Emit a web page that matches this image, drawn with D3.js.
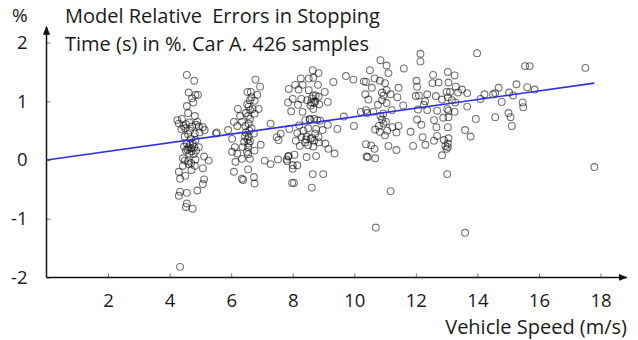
<!DOCTYPE html>
<html>
<head>
<meta charset="utf-8">
<script src="https://cdn.jsdelivr.net/npm/d3@7"></script>
<style>
  body { margin: 0; background: #fff; }
  text { font-family: "Open Sans", sans-serif; fill: #1a1a1a; }
</style>
</head>
<body>
<svg id="chart" width="638" height="340"></svg>
<script>
// tick labels
var xTicks = [2, 4, 6, 8, 10, 12, 14, 16, 18]
var yTicks = [-2, -1, 0, 1, 2]

// fitted trend line (speed m/s, error %)
var fitSpeed = [0, 17.8]
var fitErr = [0, 1.31]

// samples, [speed, error %], grouped by speed band
var band45 = [
  [4.56,1.45],[4.80,1.35],[4.62,1.15],[4.92,1.11],[4.84,1.11],[4.77,0.98],[4.56,0.92],[4.73,1.05],
  [4.60,0.80],[4.82,0.75],[4.25,0.68],[4.30,0.62],[4.53,0.61],[4.64,0.64],[4.90,0.65],[4.38,0.53],
  [4.51,0.54],[4.73,0.57],[4.95,0.57],[5.08,0.56],[5.14,0.51],[5.51,0.45],[4.60,0.44],[4.82,0.45],
  [4.97,0.47],[4.49,0.40],[4.69,0.36],[4.84,0.34],[4.56,0.28],[4.75,0.28],[4.47,0.23],[4.62,0.22],
  [4.80,0.22],[4.95,0.22],[4.53,0.16],[4.71,0.15],[4.86,0.16],[4.64,0.11],[4.43,0.03],[4.49,-0.01],
  [4.84,0.01],[5.12,0.06],[5.27,-0.01],[4.62,-0.07],[4.82,-0.10],[4.43,-0.10],[5.08,-0.14],[4.30,-0.20],
  [4.71,-0.17],[4.51,-0.27],[4.34,-0.32],[5.12,-0.33],[5.08,-0.41],[4.90,-0.52],[4.34,-0.54],[4.56,-0.56],
  [4.30,-0.61],[4.56,-0.74],[4.53,-0.80],[4.75,-0.83],[4.34,-1.82],
  [4.66,0.27],[4.70,0.20],[4.58,0.18],[4.78,0.10],[4.45,0.58],[4.66,0.50],[4.86,0.60],[4.40,0.70],
  [4.60,-0.02],[4.70,-0.05]
]
var band65 = [
  [6.79,1.37],[6.94,1.25],[6.53,1.16],[6.64,1.16],[6.85,1.11],[6.61,1.02],[6.76,1.01],[6.22,0.87],
  [6.57,0.91],[6.70,0.87],[6.89,0.87],[6.48,0.80],[6.76,0.79],[6.29,0.75],[6.09,0.65],[6.35,0.65],
  [6.61,0.70],[6.20,0.58],[6.46,0.58],[5.90,0.51],[6.66,0.54],[7.28,0.62],[6.48,0.47],[6.74,0.45],
  [5.53,0.47],[6.03,0.36],[6.57,0.40],[6.42,0.31],[6.61,0.32],[7.48,0.39],[7.61,0.45],[7.54,0.34],
  [6.12,0.22],[6.37,0.22],[6.55,0.22],[6.96,0.26],[6.03,0.14],[6.20,0.11],[6.51,0.14],[6.76,0.16],
  [6.35,0.02],[6.61,0.02],[7.09,-0.01],[7.28,-0.07],[7.52,0.01],[7.80,0.01],[7.85,0.06],[8.00,-0.09],
  [6.14,-0.03],[6.09,-0.20],[6.55,-0.16],[6.35,-0.32],[6.39,-0.34],[6.74,-0.29],[6.76,-0.40],[7.98,-0.39],
  [6.55,0.75],[6.57,0.62],[6.59,0.50],[6.53,0.35],[6.57,0.28],[6.55,0.10],[6.62,0.85],[6.52,0.95],
  [6.66,1.07],[6.45,0.40]
]
var band85 = [
  [8.65,1.53],[8.84,1.48],[8.26,1.39],[8.52,1.39],[8.67,1.40],[9.73,1.43],[9.97,1.37],[10.31,1.34],
  [8.08,1.28],[8.32,1.28],[8.82,1.28],[9.32,1.33],[7.87,1.21],[8.19,1.20],[8.52,1.19],[9.04,1.16],
  [8.67,1.10],[8.84,1.08],[8.00,1.04],[8.28,1.04],[8.47,1.02],[8.73,1.00],[9.14,0.99],[7.85,0.98],
  [8.17,0.94],[8.58,0.93],[8.86,0.95],[7.95,0.83],[8.32,0.82],[8.67,0.87],[8.41,0.68],[8.56,0.69],
  [8.80,0.68],[8.89,0.67],[9.14,0.60],[9.66,0.74],[9.99,0.58],[10.21,0.82],[10.42,0.80],[8.21,0.59],
  [7.89,0.53],[9.45,0.53],[8.50,0.54],[8.76,0.53],[8.97,0.51],[8.15,0.46],[8.73,0.45],[8.28,0.39],
  [8.43,0.35],[8.58,0.36],[8.84,0.39],[8.10,0.33],[9.06,0.28],[8.23,0.24],[8.50,0.25],[8.67,0.23],
  [9.16,0.19],[9.36,0.11],[7.87,0.07],[8.06,0.09],[8.45,0.05],[8.76,0.07],[7.82,-0.02],[8.15,-0.09],
  [8.00,-0.15],[8.65,-0.24],[8.99,-0.24],[8.04,-0.39],[8.62,-0.47],[10.38,0.27],[10.40,0.06],[10.36,1.12],
  [8.62,1.05],[8.70,0.97],[8.60,0.98],[8.75,1.10],[8.55,0.70],[8.70,0.70],[8.45,0.40],[8.62,0.38],
  [8.70,0.33],[8.40,0.30],[8.85,0.30],[8.35,0.50]
]
var band11 = [
  [12.15,1.81],[12.15,1.68],[10.85,1.70],[11.05,1.61],[11.61,1.56],[10.51,1.53],[11.11,1.48],[10.66,1.39],
  [10.83,1.35],[11.00,1.31],[12.56,1.45],[13.04,1.50],[12.02,1.35],[12.54,1.31],[12.74,1.32],[10.38,1.33],
  [10.57,1.23],[11.05,1.19],[11.44,1.23],[12.04,1.25],[11.18,1.12],[12.37,1.12],[12.65,1.09],[13.00,1.16],
  [10.46,1.03],[10.90,1.02],[11.40,1.07],[12.00,1.09],[12.85,1.03],[10.77,0.94],[11.05,0.97],[11.59,0.93],
  [12.07,0.86],[12.37,0.85],[12.69,0.84],[13.02,0.87],[10.38,0.85],[10.62,0.82],[10.94,0.79],[11.22,0.85],
  [12.26,0.94],[10.90,0.69],[11.03,0.65],[12.04,0.69],[12.59,0.68],[12.89,0.72],[12.18,0.60],[11.24,0.56],
  [11.44,0.58],[10.68,0.52],[10.83,0.48],[11.07,0.50],[11.37,0.47],[12.67,0.56],[13.04,0.56],[11.83,0.48],
  [12.22,0.39],[12.69,0.41],[12.91,0.34],[10.55,0.25],[10.66,0.19],[11.11,0.24],[11.37,0.17],[11.91,0.24],
  [12.31,0.26],[12.59,0.33],[12.96,0.24],[13.00,0.19],[10.44,0.05],[10.68,0.03],[12.85,0.08],[13.02,-0.24],
  [11.18,-0.53],[10.70,-1.15],
  [10.90,1.15],[10.95,1.10],[10.85,0.75],[10.95,0.62],[10.80,0.58],[11.00,0.42],[12.10,1.10],[12.30,1.00]
]
var band14 = [
  [13.99,1.82],[15.55,1.60],[15.70,1.60],[13.26,1.44],[13.06,1.32],[13.30,1.25],[13.50,1.20],[13.11,1.16],
  [13.37,1.15],[13.67,1.14],[14.69,1.23],[14.58,1.14],[15.27,1.29],[15.62,1.24],[15.86,1.20],[14.23,1.12],
  [14.51,1.12],[15.03,1.15],[15.16,1.10],[13.04,1.07],[13.17,1.02],[14.10,1.04],[14.79,0.99],[15.47,0.98],
  [15.49,0.90],[13.28,0.98],[13.67,0.91],[13.26,0.82],[13.06,0.84],[13.06,0.73],[13.95,0.70],[14.58,0.73],
  [15.01,0.80],[15.08,0.73],[15.12,0.58],[13.60,0.51],[13.78,0.40],[13.06,0.37],[13.04,0.28],[13.04,0.22],
  [13.60,-1.24],[17.51,1.57],[17.80,-0.12]
]

var svg = d3.select("#chart")

var xScale = d3.scaleLinear().domain([0, 18]).range([46.5, 600.5])
var yScale = d3.scaleLinear().domain([-2, 2]).range([277.4, 42.6])

var samples = band45.concat(band65, band85, band11, band14)

// arrow head for the axes
svg.append("defs").append("marker")
    .attr("id", "arrow")
    .attr("viewBox", "0 0 10 10")
    .attr("refX", 9).attr("refY", 5)
    .attr("markerWidth", 6).attr("markerHeight", 6)
    .attr("orient", "auto")
  .append("path")
    .attr("d", "M0,1 L10,5 L0,9 Z")
    .style("fill", "#111")

var plain = function(d) { return String(d) }

var xAxis = d3.axisBottom(xScale).tickValues(xTicks).tickFormat(plain).tickSize(-4).tickPadding(16)
var yAxis = d3.axisLeft(yScale).tickValues(yTicks).tickFormat(plain).tickSize(-4).tickPadding(19)

var gx = svg.append("g").attr("transform", "translate(0," + yScale(-2) + ")").call(xAxis)
var gy = svg.append("g").attr("transform", "translate(" + xScale(0) + ",0)").call(yAxis)

svg.selectAll(".domain").remove()
svg.selectAll(".tick line").style("stroke", "#777").style("stroke-width", 1)
svg.selectAll(".tick text").style("font-size", "18.5px").style("font-family", "'Open Sans', sans-serif").style("fill", "#1a1a1a")

// axis lines with arrows
svg.append("line")
    .attr("x1", xScale(0)).attr("y1", yScale(-2))
    .attr("x2", xScale(18.85)).attr("y2", yScale(-2))
    .style("stroke", "#111").style("stroke-width", 1.5)
    .attr("marker-end", "url(#arrow)")
svg.append("line")
    .attr("x1", xScale(0)).attr("y1", yScale(-2))
    .attr("x2", xScale(0)).attr("y2", yScale(2.27))
    .style("stroke", "#111").style("stroke-width", 1.5)
    .attr("marker-end", "url(#arrow)")

// sample circles
svg.append("g").selectAll("circle")
  .data(samples)
  .enter()
  .append("circle")
    .attr("cx", function(d) { return xScale(d[0]) })
    .attr("cy", function(d) { return yScale(d[1]) })
    .attr("r", 3.4)
    .style("fill", "none")
    .style("stroke", "#000")
    .style("stroke-opacity", 0.55)
    .style("stroke-width", 1.1)

// trend line
var fit = fitSpeed.map(function(s, i) { return {s: s, e: fitErr[i]} })
var line = d3.line()
    .x(function(d) { return xScale(d.s) })
    .y(function(d) { return yScale(d.e) })
svg.append("path")
    .attr("d", line(fit))
    .style("fill", "none")
    .style("stroke", "#2f2fe6")
    .style("stroke-width", 1.6)

// labels
svg.append("text")
    .attr("x", 12).attr("y", 22)
    .style("font-size", "19px")
    .text("%")

svg.append("text")
    .attr("x", 65).attr("y", 23)
    .style("font-size", "20px")
    .text("Model Relative\u00a0 Errors in Stopping")

svg.append("text")
    .attr("x", 65).attr("y", 51)
    .style("font-size", "20px")
    .text("Time (s) in %. Car A. 426 samples")

svg.append("text")
    .attr("x", 627).attr("y", 334)
    .attr("text-anchor", "end")
    .style("font-size", "20px")
    .text("Vehicle Speed (m/s)")
</script>
</body>
</html>
